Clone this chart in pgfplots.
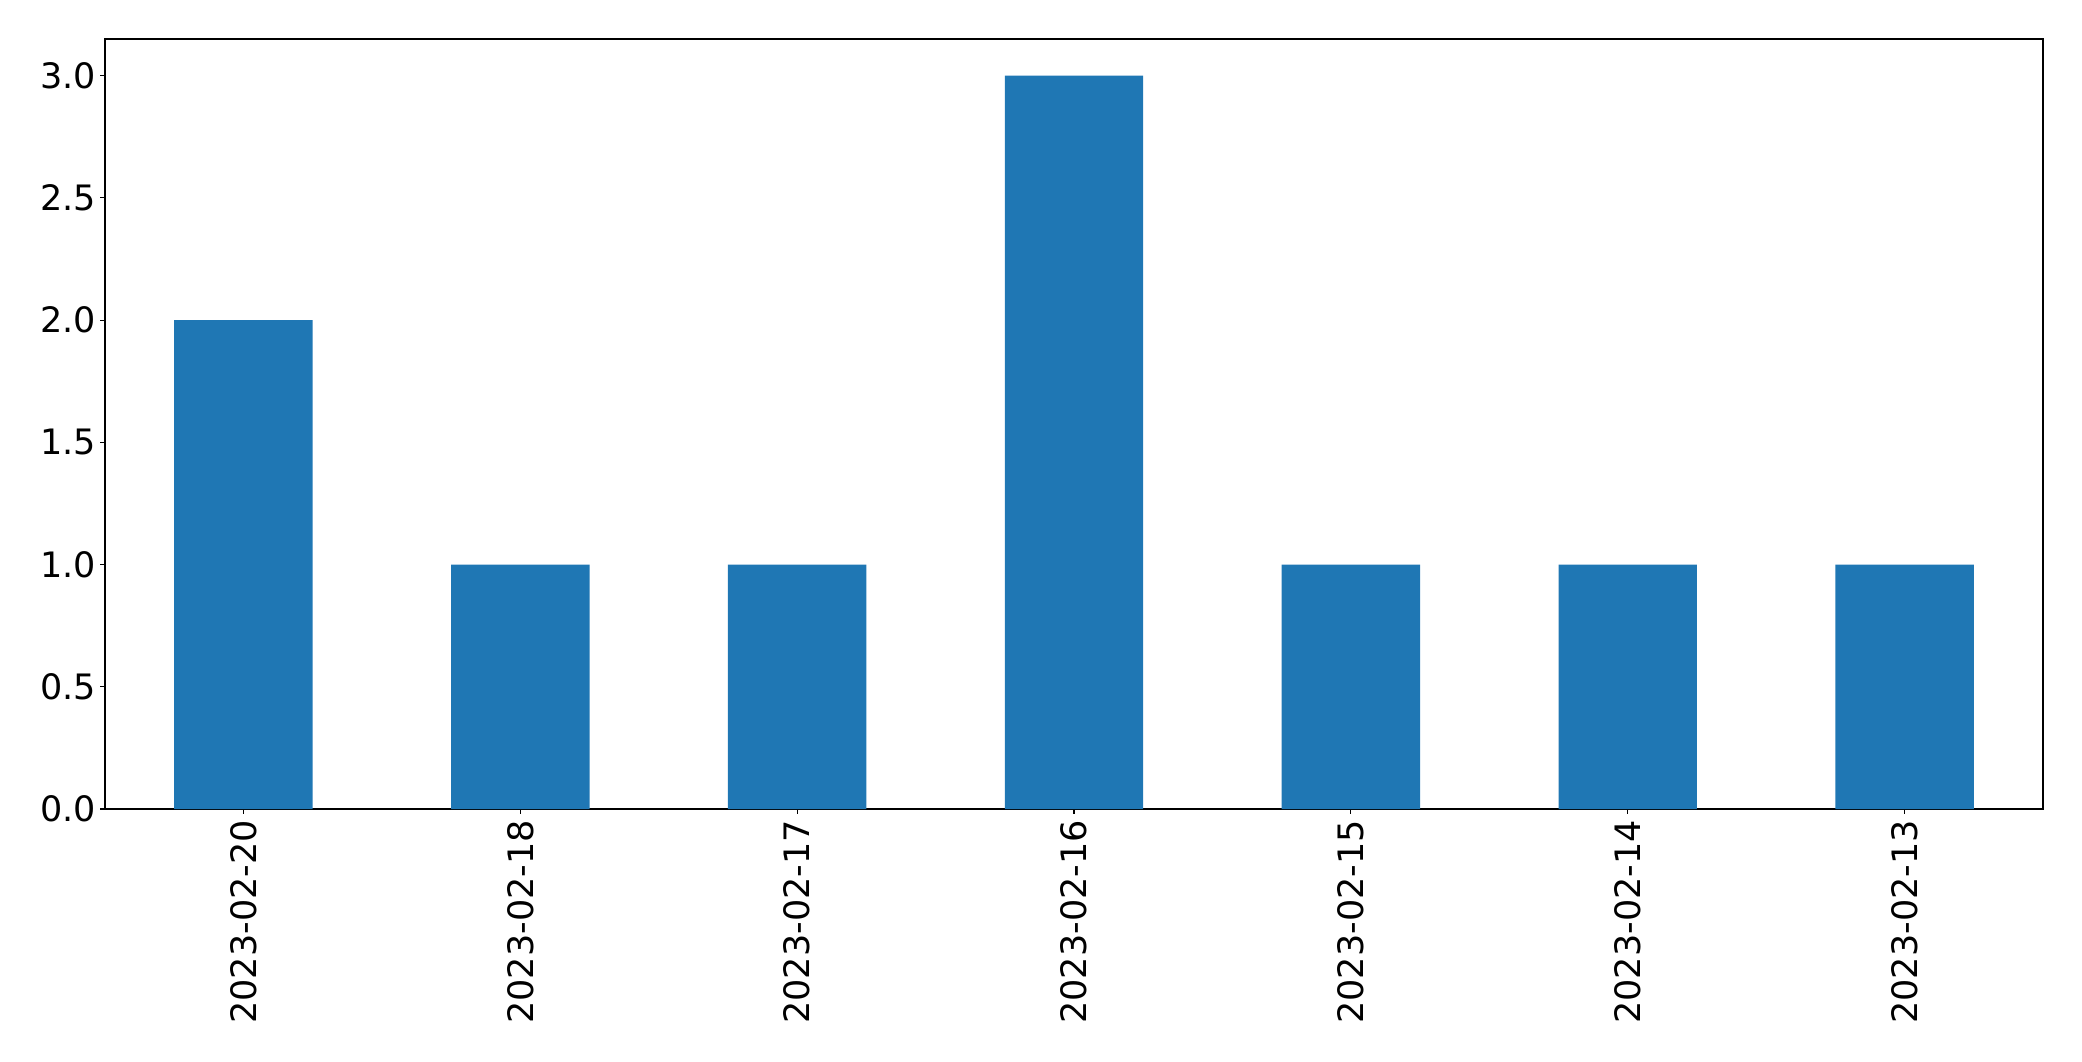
\documentclass[border=0pt]{standalone}
\usepackage{fontspec}
\setmainfont{DejaVu Sans}
\usepackage{pgfplots}
\pgfplotsset{compat=1.18}
\definecolor{mplblue}{HTML}{1F77B4}
\begin{document}
\begin{tikzpicture}
\begin{axis}[
  scale only axis, width=969pt, height=385pt,
  xmin=-0.5, xmax=6.5, ymin=0, ymax=3.15,
  xtick={0,1,2,3,4,5,6},
  xticklabels={2023-02-20,2023-02-18,2023-02-17,2023-02-16,2023-02-15,2023-02-14,2023-02-13},
  x tick label style={rotate=90, anchor=east, inner sep=3pt},
  ytick={0,0.5,1,1.5,2,2.5,3},
  yticklabel style={/pgf/number format/.cd, fixed, fixed zerofill, precision=1, /tikz/.cd, inner sep=2pt},
  /pgf/number format/assume math mode=true,
  tick align=outside, major tick length=2.4pt,
  tick style={black, line width=0.6pt},
  axis line style={line width=0.6pt},
  ticklabel style={font=\fontsize{17.5}{20}\selectfont},
  xtick pos=bottom, ytick pos=left,
]
\addplot[ybar, bar width=0.5, fill=mplblue, draw=none] coordinates {(0,2) (1,1) (2,1) (3,3) (4,1) (5,1) (6,1)};
\end{axis}
\pgfresetboundingbox
\path (-52.5pt,-126pt) rectangle (988.5pt,404.5pt);
\end{tikzpicture}
\end{document}
